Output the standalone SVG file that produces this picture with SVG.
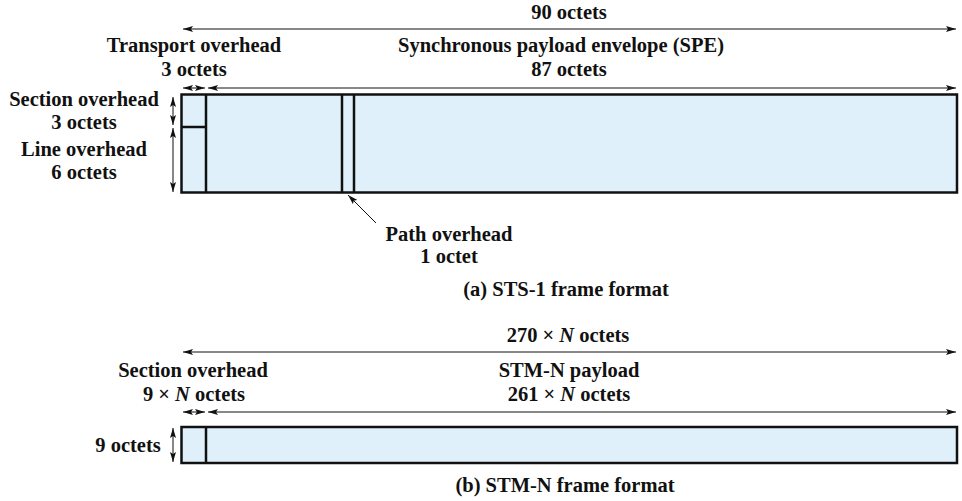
<svg xmlns="http://www.w3.org/2000/svg" width="962" height="501" viewBox="0 0 962 501">
<style>
text{font-family:"Liberation Serif","Times New Roman",serif;font-weight:bold;font-size:20.5px;fill:#111;text-anchor:middle}
.dim{stroke:#111;stroke-width:1;fill:none}
.box{fill:#dff0fb;stroke:#111;stroke-width:2.5}
.div{stroke:#111;stroke-width:2.5}
</style>
<defs>
<marker id="ah" viewBox="0 0 10 6" refX="10" refY="3" markerWidth="10" markerHeight="6" markerUnits="userSpaceOnUse" orient="auto-start-reverse">
<path d="M0,0 L10,3 L0,6 L2,3 Z" fill="#111"/>
</marker>
</defs>

<g id="connectors">
<line class="dim" x1="183" y1="29" x2="956" y2="29" marker-start="url(#ah)" marker-end="url(#ah)"/>
<line class="dim" x1="183" y1="88" x2="205" y2="88" marker-start="url(#ah)" marker-end="url(#ah)"/>
<line class="dim" x1="208" y1="88" x2="956" y2="88" marker-start="url(#ah)" marker-end="url(#ah)"/>
<line class="dim" x1="173" y1="97" x2="173" y2="125" marker-start="url(#ah)" marker-end="url(#ah)"/>
<line class="dim" x1="173" y1="128" x2="173" y2="192" marker-start="url(#ah)" marker-end="url(#ah)"/>
<line class="dim" x1="376" y1="223" x2="348" y2="195" marker-end="url(#ah)"/>
<line class="dim" x1="183" y1="352" x2="956" y2="352" marker-start="url(#ah)" marker-end="url(#ah)"/>
<line class="dim" x1="183" y1="412" x2="205" y2="412" marker-start="url(#ah)" marker-end="url(#ah)"/>
<line class="dim" x1="208" y1="412" x2="956" y2="412" marker-start="url(#ah)" marker-end="url(#ah)"/>
<line class="dim" x1="173" y1="428" x2="173" y2="462" marker-start="url(#ah)" marker-end="url(#ah)"/>
</g>

<g id="sts1-frame">
<rect class="box" x="181.5" y="94.5" width="775.5" height="98"/>
<line class="div" x1="206" y1="94.5" x2="206" y2="192.5"/>
<line class="div" x1="181.5" y1="127" x2="206" y2="127"/>
<line class="div" x1="342" y1="94.5" x2="342" y2="192.5"/>
<line class="div" x1="354" y1="94.5" x2="354" y2="192.5"/>
</g>

<g id="sts1-labels">
<text x="569" y="19">90 octets</text>
<text x="194" y="52">Transport overhead</text>
<text x="194" y="76">3 octets</text>
<text x="561" y="52">Synchronous payload envelope (SPE)</text>
<text x="569" y="76">87 octets</text>
<text x="84" y="106">Section overhead</text>
<text x="84" y="129">3 octets</text>
<text x="84" y="156">Line overhead</text>
<text x="84" y="179">6 octets</text>
<text x="449" y="241">Path overhead</text>
<text x="449" y="263">1 octet</text>
<text x="566" y="296">(a) STS-1 frame format</text>
</g>

<g id="stmn-frame">
<rect class="box" x="181.5" y="427" width="775.5" height="36"/>
<line class="div" x1="206" y1="427" x2="206" y2="463"/>
</g>

<g id="stmn-labels">
<text x="568" y="342">270 × <tspan font-style="italic">N</tspan> octets</text>
<text x="193" y="377">Section overhead</text>
<text x="194" y="401">9 × <tspan font-style="italic">N</tspan> octets</text>
<text x="569" y="377">STM-N payload</text>
<text x="569" y="401">261 × <tspan font-style="italic">N</tspan> octets</text>
<text x="128" y="452">9 octets</text>
<text x="565" y="492">(b) STM-N frame format</text>
</g>
</svg>
